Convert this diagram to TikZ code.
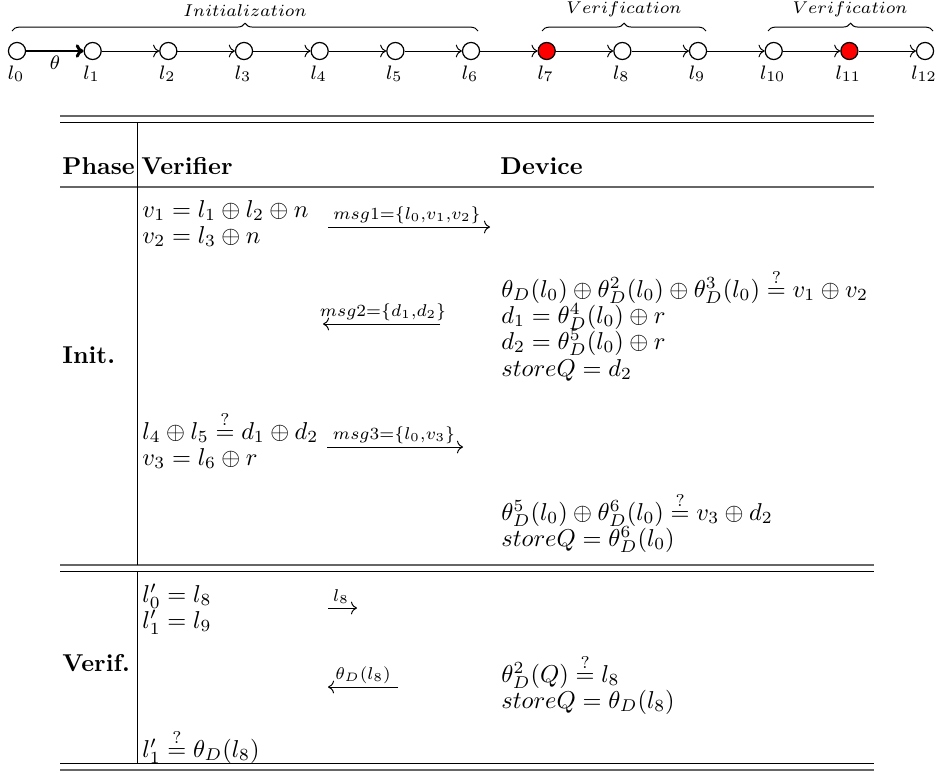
\documentclass[tikz,border=0pt]{standalone}
\usepackage{amsmath}
\usetikzlibrary{decorations.pathreplacing,arrows.meta}
\begin{document}
\begin{tikzpicture}[x=0.41pt,y=-0.41pt,
  loc/.style={circle,draw,line width=0.5pt,minimum size=7pt,inner sep=0pt},
  redloc/.style={loc,fill=red},
  loclab/.style={font=\footnotesize,inner sep=0pt,anchor=base},
  chainarrow/.style={-{Computer Modern Rightarrow},line width=0.4pt},
  thetaarrow/.style={-{Computer Modern Rightarrow[length=3.2pt,width=5.5pt]},line width=1.2pt},
  brc/.style={decorate,decoration={brace,amplitude=3.2pt},line width=0.4pt},
  phaselab/.style={font=\scriptsize,inner sep=0pt,anchor=base},
  thickrule/.style={line width=0.8pt,black!60},
  thinrule/.style={line width=0.4pt},
  txt/.style={anchor=base west,inner sep=0pt},
  msgarrow/.style={-{Computer Modern Rightarrow},line width=0.4pt},
  msglab/.style={inner sep=0pt,anchor=base}
]
\useasboundingbox (0,0) rectangle (941,773);

% ---- chain ----
\foreach \i in {0,...,12}{
  \pgfmathsetmacro{\xx}{17+75.67*\i}
  \ifnum\i=7
    \node[redloc] (n\i) at (\xx,51) {};
  \else\ifnum\i=11
    \node[redloc] (n\i) at (\xx,51) {};
  \else
    \node[loc] (n\i) at (\xx,51) {};
  \fi\fi
  \node[loclab] (lab\i) at (\xx-1,79) {$l_{\i}$};
}
\draw[thetaarrow] (n0) -- (n1);
\node[font=\footnotesize,inner sep=0pt] (thetalab) at (55,63) {$\theta$};
\foreach \a/\b in {1/2,2/3,3/4,4/5,5/6,6/7,7/8,8/9,9/10,10/11,11/12}{
  \draw[chainarrow] (n\a) -- (n\b);
}
% braces
\coordinate (b1s) at (12,31); \coordinate (b1e) at (478,31);
\coordinate (b2s) at (542,31); \coordinate (b2e) at (706,31);
\coordinate (b3s) at (768,31); \coordinate (b3e) at (933,31);
\draw[brc] (b1s) -- (b1e);
\draw[brc] (b2s) -- (b2e);
\draw[brc] (b3s) -- (b3e);
\node[phaselab] (p1) at (245,16) {$Initialization$};
\node[phaselab] (p2) at (624,13) {$Verification$};
\node[phaselab] (p3) at (850,13) {$Verification$};

% ---- table rules ----
\coordinate (r1l) at (60,116); \coordinate (r1r) at (874,116);
\coordinate (r2l) at (60,122); \coordinate (r2r) at (874,122);
\coordinate (r3l) at (60,187); \coordinate (r3r) at (874,187);
\coordinate (r4l) at (60,565); \coordinate (r4r) at (874,565);
\coordinate (r5l) at (60,571); \coordinate (r5r) at (874,571);
\coordinate (r6l) at (60,763); \coordinate (r6r) at (874,763);
\coordinate (r7l) at (60,770); \coordinate (r7r) at (874,770);
\draw[thickrule] (r1l) -- (r1r);
\draw[thinrule] (r2l) -- (r2r);
\draw[thickrule] (r3l) -- (r3r);
\draw[thickrule] (r4l) -- (r4r);
\draw[thinrule] (r5l) -- (r5r);
\draw[thinrule] (r6l) -- (r6r);
\draw[thickrule] (r7l) -- (r7r);
\coordinate (v1t) at (137,122); \coordinate (v1b) at (137,565);
\coordinate (v2t) at (137,571); \coordinate (v2b) at (137,763);
\draw[thinrule] (v1t) -- (v1b);
\draw[thinrule] (v2t) -- (v2b);

% ---- header ----
\node[txt] (hphase) at (62,174) {\textbf{Phase}};
\node[txt] (hver) at (141,174) {\textbf{Verifier}};
\node[txt] (hdev) at (500,174) {\textbf{Device}};

% ---- Init ----
\node[txt] (init) at (62,363) {\textbf{Init.}};
\node[txt] (iv1) at (142,217) {$v_1 = l_1 \oplus l_2 \oplus n$};
\node[txt] (iv2) at (142,243) {$v_2 = l_3 \oplus n$};
\coordinate (m1s) at (328,227); \coordinate (m1e) at (490,227);
\draw[msgarrow] (m1s) -- (m1e);
\node[msglab] (m1l) at (407,219) {$\scriptstyle msg1=\{l_0,v_1,v_2\}$};

\node[txt] (id1) at (501,297) {$\theta_D(l_0) \oplus \theta_D^2(l_0) \oplus \theta_D^3(l_0) \overset{?}{=} v_1 \oplus v_2$};
\node[txt] (id2) at (501,323) {$d_1 = \theta_D^4(l_0) \oplus r$};
\node[txt] (id3) at (501,349) {$d_2 = \theta_D^5(l_0) \oplus r$};
\node[txt] (id4) at (501,376) {$storeQ = d_2$};
\coordinate (m2s) at (440,324); \coordinate (m2e) at (323,324);
\draw[msgarrow] (m2s) -- (m2e);
\node[msglab] (m2l) at (383,316) {$\scriptstyle msg2=\{d_1,d_2\}$};

\node[txt] (iv3) at (142,439) {$l_4 \oplus l_5 \overset{?}{=} d_1 \oplus d_2$};
\node[txt] (iv4) at (142,465) {$v_3 = l_6 \oplus r$};
\coordinate (m3s) at (327,447); \coordinate (m3e) at (463,447);
\draw[msgarrow] (m3s) -- (m3e);
\node[msglab] (m3l) at (394,439) {$\scriptstyle msg3=\{l_0,v_3\}$};

\node[txt] (id5) at (501,520) {$\theta_D^5(l_0) \oplus \theta_D^6(l_0) \overset{?}{=} v_3 \oplus d_2$};
\node[txt] (id6) at (501,546) {$storeQ = \theta_D^6(l_0)$};

% ---- Verif ----
\node[txt] (verif) at (62,671) {\textbf{Verif.}};
\node[txt] (vv1) at (142,602) {$l'_0 = l_8$};
\node[txt] (vv2) at (142,628) {$l'_1 = l_9$};
\coordinate (m4s) at (328,608); \coordinate (m4e) at (357,608);
\draw[msgarrow] (m4s) -- (m4e);
\node[msglab] (m4l) at (341,601) {$\scriptstyle l_8$};

\node[txt] (vd1) at (501,682) {$\theta_D^2(Q) \overset{?}{=} l_8$};
\node[txt] (vd2) at (501,708) {$storeQ = \theta_D(l_8)$};
\coordinate (m5s) at (398,687); \coordinate (m5e) at (328,687);
\draw[msgarrow] (m5s) -- (m5e);
\node[msglab] (m5l) at (363,679) {$\scriptstyle\theta_D(l_8)$};

\node[txt] (vv3) at (142,757) {$l'_1 \overset{?}{=} \theta_D(l_8)$};
\end{tikzpicture}
\end{document}
